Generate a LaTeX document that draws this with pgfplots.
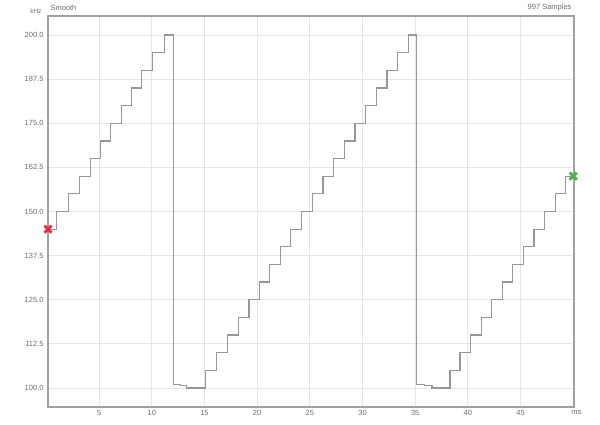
\documentclass[border=0pt]{standalone}
\usepackage{pgfplots}
\pgfplotsset{compat=1.18}
\usepackage{fontspec}
\setmainfont{Liberation Sans}

\definecolor{frame}{HTML}{A0A0A0}
\definecolor{trace}{HTML}{979797}
\definecolor{gridc}{HTML}{E6E6E6}
\definecolor{labc}{HTML}{6E6E6E}
\definecolor{startred}{HTML}{E0303C}
\definecolor{endgreen}{HTML}{4CAF50}

\begin{document}
\begin{tikzpicture}[x=1pt,y=1pt]
\useasboundingbox (0,0) rectangle (600,424);
\begin{axis}[
	at={(48pt,17pt)}, anchor=south west,
	scale only axis, width=526pt, height=391pt,
	xmin=0.15, xmax=50.07,
	ymin=94.6, ymax=205.4,
	xtick={5,10,...,45},
	extra x ticks={50}, extra x tick labels={ms},
	extra x tick style={grid=none, xticklabel style={xshift=3pt}},
	ytick={100,112.5,125,137.5,150,162.5,175,187.5,200},
	yticklabel style={/pgf/number format/fixed, /pgf/number format/fixed zerofill, /pgf/number format/precision=1, xshift=-1pt},
	/pgf/number format/assume math mode=true,
	grid=major,
	major grid style={gridc, line width=0.8pt},
	major tick length=0pt,
	axis line style={frame, line width=2pt},
	tick label style={font=\fontsize{7.5}{8}\selectfont, text=labc},
	xticklabel style={yshift=0pt},
	clip=false,
	]
% first ramp, drop, second ramp, drop, third ramp (const plot, levels start at x)
\addplot[const plot, trace, line width=1.2pt] coordinates {
	(0.15,145) (0.99,150) (2.09,155) (3.13,160) (4.15,165) (5.10,170)
	(6.10,175) (7.10,180) (8.10,185) (9.05,190) (10.10,195) (11.17,200)
	(12.08,101) (12.70,100.6) (13.30,100)
	(15.12,105) (16.15,110) (17.20,115) (18.22,120) (19.22,125) (20.20,130)
	(21.20,135) (22.18,140) (23.15,145) (24.20,150) (25.22,155) (26.25,160)
	(27.26,165) (28.28,170) (29.29,175) (30.30,180) (31.31,185) (32.32,190)
	(33.34,195) (34.35,200)
	(35.14,101) (35.90,100.6) (36.60,100)
	(38.30,105) (39.25,110) (40.26,115) (41.30,120) (42.26,125) (43.30,130)
	(44.25,135) (45.26,140) (46.27,145) (47.30,150) (48.33,155) (49.30,160)
	(50.00,160)
};
\addplot[only marks, mark=x, mark size=5pt, startred, line width=2.8pt] coordinates {(0.15,145)};
\addplot[only marks, mark=x, mark size=5pt, endgreen, line width=2.8pt] coordinates {(50.00,160)};
\end{axis}
\node[anchor=east, font=\fontsize{6.5}{7}\selectfont, text=labc] at (45,413) {kHz};
\node[anchor=west, font=\fontsize{7.5}{8}\selectfont, text=labc] at (47,416) {Smooth};
\node[anchor=east, font=\fontsize{7.5}{8}\selectfont, text=labc] at (575,416) {997 Samples};
\end{tikzpicture}
\end{document}
